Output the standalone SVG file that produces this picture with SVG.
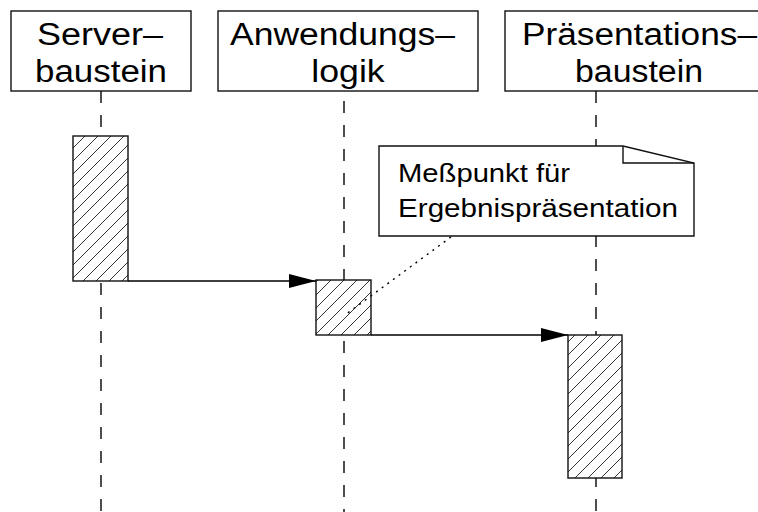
<svg xmlns="http://www.w3.org/2000/svg" width="758" height="512" viewBox="0 0 758 512">
  <style>
    .box { fill: #fff; stroke: #111; stroke-width: 1.4; }
    .title { font-family: "Liberation Sans", Arial, sans-serif; font-size: 31px; fill: #000; }
    .note-text { font-family: "Liberation Sans", Arial, sans-serif; font-size: 25px; fill: #000; }
    .life { stroke: #222; stroke-width: 1.6; stroke-dasharray: 12 12; fill: none; }
    .act { fill: url(#hatch); stroke: #111; stroke-width: 1.4; }
    .msg { stroke: #000; stroke-width: 1.4; fill: none; marker-end: url(#arrow); }
    .dots { stroke: #000; stroke-width: 1.4; stroke-dasharray: 2 5; fill: none; }
  </style>
  <defs>
    <pattern id="hatch" patternUnits="userSpaceOnUse" width="13" height="13">
      <rect width="13" height="13" fill="#fff"/>
      <path d="M0,13 L13,0 M-3,3 L3,-3 M10,16 L16,10" stroke="#333" stroke-width="1"/>
    </pattern>
    <marker id="arrow" markerUnits="userSpaceOnUse" markerWidth="28" markerHeight="14" refX="27" refY="7" orient="auto">
      <path d="M0,0 L27,7 L0,14 Z" fill="#000"/>
    </marker>
  </defs>

  <!-- lifelines -->
  <g id="lifelines">
    <line class="life" x1="101" y1="91" x2="101" y2="512"/>
    <line class="life" x1="344" y1="101" x2="344" y2="512"/>
    <line class="life" x1="596" y1="91" x2="596" y2="512"/>
  </g>

  <!-- participants -->
  <g id="server">
    <rect class="box" x="11" y="11" width="180" height="80"/>
    <text class="title" x="37" y="45" textLength="126" lengthAdjust="spacingAndGlyphs">Server–</text>
    <text class="title" x="35" y="82" textLength="132" lengthAdjust="spacingAndGlyphs">baustein</text>
  </g>
  <g id="anwendung">
    <rect class="box" x="218" y="11" width="260" height="80"/>
    <text class="title" x="230" y="45" textLength="225" lengthAdjust="spacingAndGlyphs">Anwendungs–</text>
    <text class="title" x="348" y="82" text-anchor="middle" transform="translate(348 0) scale(1.15 1) translate(-348 0)">logik</text>
  </g>
  <g id="praesentation">
    <rect class="box" x="505" y="11" width="270" height="80"/>
    <text class="title" x="522" y="45" textLength="235" lengthAdjust="spacingAndGlyphs">Präsentations–</text>
    <text class="title" x="575" y="82" textLength="128" lengthAdjust="spacingAndGlyphs">baustein</text>
  </g>

  <!-- activations -->
  <g id="act-server"><rect class="act" x="73" y="136" width="55" height="145"/></g>
  <g id="act-anwendung"><rect class="act" x="316" y="280" width="55" height="55"/></g>
  <g id="act-praesentation"><rect class="act" x="568" y="335" width="54" height="143"/></g>

  <!-- note -->
  <g id="note">
    <path class="box" d="M379,146 H623 L694,163 V236 H379 Z"/>
    <path d="M623,146 V163 H694" fill="none" stroke="#111" stroke-width="1.4"/>
    <text class="note-text" x="398" y="182" textLength="172" lengthAdjust="spacingAndGlyphs">Meßpunkt für</text>
    <text class="note-text" x="398" y="217" textLength="280" lengthAdjust="spacingAndGlyphs">Ergebnispräsentation</text>
  </g>

  <!-- connectors -->
  <g id="connectors">
    <line class="msg" x1="128" y1="281" x2="316" y2="281"/>
    <line class="msg" x1="371" y1="335" x2="568" y2="335"/>
    <line class="dots" x1="451" y1="237" x2="345" y2="315"/>
  </g>
</svg>
